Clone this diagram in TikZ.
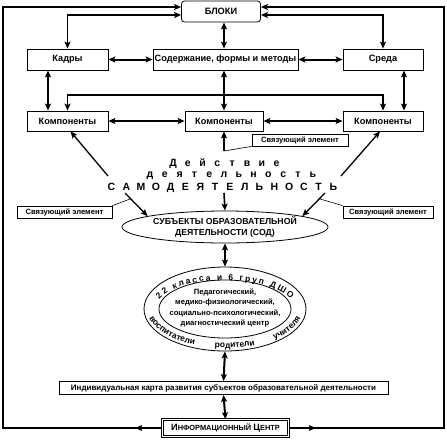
\documentclass[tikz,border=0pt]{standalone}
\usepackage{fontspec}
\setmainfont{Liberation Sans}
\usetikzlibrary{arrows.meta,calc,decorations.text,shapes.geometric}
\newcommand{\spl}[1]{\makebox[14.8pt]{#1}}
\begin{document}
\begin{tikzpicture}[x=1pt,y=-1pt,
  >={Stealth[length=7pt,width=6pt,inset=1.5pt]},
  box/.style={draw,line width=0.8pt,minimum height=21pt,inner sep=1pt,font=\fontsize{9.2}{10}\selectfont\bfseries},
  kbox/.style={box,minimum height=20pt},
  svbox/.style={draw,line width=0.8pt,minimum height=12pt,inner sep=1pt,font=\fontsize{7.6}{8}\selectfont\bfseries},
  spaced/.style={anchor=base,inner sep=0pt,font=\fontsize{10.5}{12}\selectfont\bfseries},
  thickline/.style={line width=1.6pt},
  dbl/.style={<->,line width=2pt},
  thindbl/.style={<->,line width=1.1pt},
  diag/.style={->,line width=1.3pt},
  link/.style={line width=0.6pt}
]
\fill[white] (0,0) rectangle (447,440);
\useasboundingbox (0,0) rectangle (447,440);

% nodes
\node[box,rounded corners=3pt,minimum width=79pt] (bloki) at (221,11.5) {БЛОКИ};
\node[box,minimum width=81pt] (kadry) at (67.5,59.5) {Кадры};
\node[box,minimum width=145pt] (sod) at (225.5,59.5) {Содержание, формы и методы};
\node[box,minimum width=80pt] (sreda) at (383,59.5) {Среда};
\node[kbox,minimum width=81pt] (k1) at (67.5,121) {Компоненты};
\node[kbox,minimum width=78pt] (k2) at (224,121) {Компоненты};
\node[kbox,minimum width=80pt] (k3) at (383,121) {Компоненты};
\node[svbox,minimum width=96pt] (svy1) at (300,140) {Связующий элемент};
\node[svbox,minimum width=95pt] (svy2) at (64.5,212) {Связующий элемент};
\node[svbox,minimum width=90pt] (svy3) at (388,212) {Связующий элемент};

\node[spaced] (act1) at (224.8,166) {\spl{Д}\spl{е}\spl{й}\spl{с}\spl{т}\spl{в}\spl{и}\spl{е}};
\node[spaced] (act2) at (231.4,177.5) {\spl{д}\spl{е}\spl{я}\spl{т}\spl{е}\spl{л}\spl{ь}\spl{н}\spl{о}\spl{с}\spl{т}\spl{ь}};
\node[spaced] (act3) at (222.5,190) {\spl{С}\spl{А}\spl{М}\spl{О}\spl{Д}\spl{Е}\spl{Я}\spl{Т}\spl{Е}\spl{Л}\spl{Ь}\spl{Н}\spl{О}\spl{С}\spl{Т}\spl{Ь}};

\node[ellipse,draw,line width=0.8pt,minimum width=206pt,minimum height=32pt,inner sep=0pt,align=center,
      font=\fontsize{8.7}{10.5}\selectfont\bfseries] (e1) at (225,227) {СУБЪЕКТЫ ОБРАЗОВАТЕЛЬНОЙ\\ДЕЯТЕЛЬНОСТИ (СОД)};

\node[ellipse,draw,line width=0.8pt,minimum width=162pt,minimum height=84pt,inner sep=0pt] (e2o) at (225,309) {};
\node[ellipse,draw,line width=0.8pt,minimum width=132pt,minimum height=58pt,inner sep=0pt] (e2i) at (225,309) {};
\node[align=center,inner sep=0pt,font=\fontsize{7.6}{10.3}\selectfont\bfseries] (cent) at (225,308)
  {Педагогический,\\медико-физиологический,\\социально-психологический,\\диагностический центр};
\path[decorate,decoration={text along path,text align=fit to path,
   text={|\fontsize{8.5}{9}\selectfont\bfseries|22 класса и 6 груп ДШО}}]
   (225,309) ++(200:70 and 29) arc[start angle=200,end angle=340,x radius=70,y radius=29];
\path[decorate,decoration={text along path,text align=fit to path stretching spaces,
   text={|\fontsize{8.5}{9}\selectfont\bfseries|воспитатели родители учителя}}]
   (225,309) ++(166:78 and 39) arc[start angle=166,end angle=14,x radius=78,y radius=39];

\node[draw,line width=0.8pt,minimum width=329pt,minimum height=13pt,inner sep=0pt,
      font=\fontsize{8}{9}\selectfont\bfseries] (ind) at (223.5,388)
  {Индивидуальная карта развития субъектов образовательной деятельности};
\node[draw,double,double distance=1.3pt,line width=0.6pt,minimum width=126pt,minimum height=17pt,inner sep=1pt,
      font=\fontsize{7.4}{8}\selectfont\bfseries] (info) at (225.5,428)
  {{\fontsize{9.2}{10}\selectfont И}НФОРМАЦИОННЫЙ {\fontsize{9.2}{10}\selectfont Ц}ЕНТР};

% helper coordinates
\coordinate (tl) at (3,7);
\coordinate (tr) at (444,7);
\coordinate (bl) at (3,428);
\coordinate (br) at (444,428);
\coordinate (y15) at (0,15);
\coordinate (y95) at (0,95);
\coordinate (mx) at (224,0);
\coordinate (lx) at (48,0);
\coordinate (rx) at (404,0);
\coordinate (m1) at (224,151);
\coordinate (d1) at (108,176);
\coordinate (d2) at (341,176);
\coordinate (a1) at (125,193);
\coordinate (a2) at (224,193);
\coordinate (a3) at (325,193);

% frame
\draw[thickline,->] (info.west) -- (bl) -- (tl) -- (tl -| bloki.west);
\draw[thickline,->] (info.east) -- (br) -- (tr) -- (tr -| bloki.east);
\draw[thickline,->] (info.west) -- ++(-27,0);
\draw[thickline,->] (info.east) -- ++(27,0);

% top connections
\draw[thickline,<->] (kadry.north) -- (kadry.north |- y15) -- (bloki.west |- y15);
\draw[thickline,<->] (sreda.north) -- (sreda.north |- y15) -- (bloki.east |- y15);
\draw[dbl] (bloki.south -| mx) -- (sod.north -| mx);
\draw[dbl] (kadry.east) -- (sod.west);
\draw[dbl] (sod.east) -- (sreda.west);
\draw[dbl] (kadry.south -| lx) -- (k1.north -| lx);
\draw[dbl] (sreda.south -| rx) -- (k3.north -| rx);
\draw[thickline,<->] (k1.north) -- (k1.north |- y95) -- (k3.north |- y95) -- (k3.north);
\draw[dbl] (sod.south -| mx) -- (k2.north -| mx);
\draw[thindbl] (k1.east) -- (k2.west);
\draw[thindbl] (k2.east) -- (k3.west);

% activity arrows
\draw[thickline,->] (m1) -- (k2.south);
\draw[link] (svy1.south west) -- (m1);
\draw[diag] (d1) -- ([xshift=3pt]k1.south);
\draw[diag] (d2) -- ([xshift=-3pt]k3.south);
\draw[diag] (a1) -- (e1.172);
\draw[thickline,->] (a2) -- (e1.north);
\draw[diag] (a3) -- (e1.8);
\draw[link] (svy2.north east) -- ($(a1)!0.25!(e1.172)$);
\draw[link] (svy3.north west) -- ($(a3)!0.25!(e1.8)$);

% lower chain
\draw[dbl] (e1.south) -- (e2o.north);
\draw[dbl] (e2o.south) -- (ind.north);
\draw[dbl] (ind.south) -- (info.north);
\end{tikzpicture}
\end{document}
